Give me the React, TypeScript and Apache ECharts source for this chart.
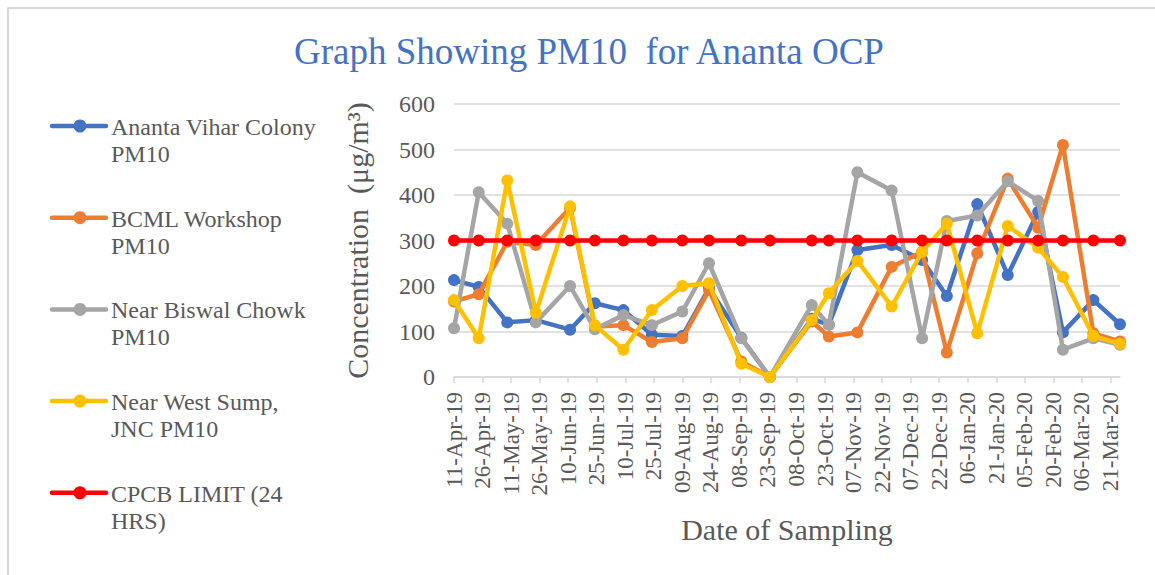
import React, { useEffect, useRef } from "react";
import * as echarts from "echarts";

const FONT = "'Liberation Serif', 'Times New Roman', serif";
const TEXT_GRAY = "#595959";
const GRID_GRAY = "#D9D9D9";

const titleText = "Graph Showing PM10  for Ananta OCP";
const xAxisTitle = "Date of Sampling";
const yAxisTitle = "Concentration  (μg/m³)";

const sampleDates = [
  "2019-04-11", "2019-04-24", "2019-05-09", "2019-05-24", "2019-06-11", "2019-06-24",
  "2019-07-09", "2019-07-24", "2019-08-09", "2019-08-23", "2019-09-09", "2019-09-24",
  "2019-10-16", "2019-10-25", "2019-11-09", "2019-11-27", "2019-12-13", "2019-12-26",
  "2020-01-11", "2020-01-27", "2020-02-12", "2020-02-25", "2020-03-12", "2020-03-26",
];

const anantaVihar = [213, 198, 120, 125, 104, 162, 147, 93, 90, 195, 86, 0, 128, 115, 279, 290, 257, 178, 380, 224, 363, 98, 169, 116];
const bcmlWorkshop = [166, 182, 297, 290, 372, 111, 114, 77, 85, 191, 34, 0, 122, 89, 98, 242, 275, 54, 272, 436, 328, 510, 96, 78];
const biswalChowk = [107, 406, 337, 120, 200, 105, 136, 114, 144, 250, 85, 0, 158, 115, 450, 410, 85, 343, 355, 430, 387, 60, 85, 71];
const westSump = [169, 85, 432, 141, 375, 114, 60, 147, 200, 206, 29, 0, 125, 184, 255, 155, 275, 337, 96, 332, 284, 220, 90, 73];
const cpcbLimit = [300, 300, 300, 300, 300, 300, 300, 300, 300, 300, 300, 300, 300, 300, 300, 300, 300, 300, 300, 300, 300, 300, 300, 300];

const seriesNames = [
  "Ananta Vihar Colony\nPM10",
  "BCML Workshop\nPM10",
  "Near Biswal Chowk\nPM10",
  "Near West Sump,\nJNC PM10",
  "CPCB LIMIT (24\nHRS)",
];
const seriesColors = ["#4472C4", "#ED7D31", "#A5A5A5", "#FFC000", "#FF0000"];

const xTickLabels = [
  "11-Apr-19", "26-Apr-19", "11-May-19", "26-May-19", "10-Jun-19", "25-Jun-19",
  "10-Jul-19", "25-Jul-19", "09-Aug-19", "24-Aug-19", "08-Sep-19", "23-Sep-19",
  "08-Oct-19", "23-Oct-19", "07-Nov-19", "22-Nov-19", "07-Dec-19", "22-Dec-19",
  "06-Jan-20", "21-Jan-20", "05-Feb-20", "20-Feb-20", "06-Mar-20", "21-Mar-20",
];
const yTicks = [0, 100, 200, 300, 400, 500, 600];

const MONTHS = ["Jan", "Feb", "Mar", "Apr", "May", "Jun", "Jul", "Aug", "Sep", "Oct", "Nov", "Dec"];
const START = Date.UTC(2019, 3, 11);
const DAY = 86400000;
const dayOfIso = (iso: string) => {
  const [y, m, d] = iso.split("-").map(Number);
  return Math.round((Date.UTC(y, m - 1, d) - START) / DAY);
};
const dayOfLabel = (lab: string) => {
  const [d, mon, yy] = lab.split("-");
  return Math.round((Date.UTC(2000 + Number(yy), MONTHS.indexOf(mon), Number(d)) - START) / DAY);
};

const xTickDays = xTickLabels.map(dayOfLabel);
const labelByDay: Record<number, string> = {};
xTickDays.forEach((d, i) => (labelByDay[d] = xTickLabels[i]));
const xMax = dayOfIso(sampleDates[sampleDates.length - 1]);

const allSeries = [anantaVihar, bcmlWorkshop, biswalChowk, westSump, cpcbLimit];

export default function App() {
  const ref = useRef<HTMLDivElement>(null);
  useEffect(() => {
    if (!ref.current) return;
    const chart = echarts.init(ref.current, null, { renderer: "svg" });

    const legendGraphics: any[] = [];
    seriesNames.forEach((name, i) => {
      const cy = 126 + i * 91.7;
      legendGraphics.push({
        type: "line",
        shape: { x1: 52, y1: cy, x2: 106, y2: cy },
        style: { stroke: seriesColors[i], lineWidth: 4.5, lineCap: "round" },
      });
      legendGraphics.push({
        type: "circle",
        shape: { cx: 80, cy, r: 6.5 },
        style: { fill: seriesColors[i] },
      });
      legendGraphics.push({
        type: "text",
        x: 111,
        y: cy + 1 - 13.5,
        style: {
          text: name,
          font: `24px ${FONT}`,
          fill: TEXT_GRAY,
          lineHeight: 27,
          textVerticalAlign: "top",
        },
      });
    });

    chart.setOption({
      animation: false,
      backgroundColor: "#ffffff",
      title: {
        text: titleText,
        left: 289,
        top: 28,
        textStyle: { fontFamily: FONT, fontSize: 37, fontWeight: "normal", color: "#4472C4" },
      },
      grid: { left: 454, right: 35, top: 104, bottom: 198, containLabel: false, outerBoundsMode: "none" },
      xAxis: {
        type: "value",
        min: 0,
        max: xMax,
        interval: 15,
        name: xAxisTitle,
        nameLocation: "middle",
        nameGap: 137,
        nameTextStyle: { fontFamily: FONT, fontSize: 30, color: TEXT_GRAY },
        axisLine: { show: true, lineStyle: { color: GRID_GRAY, width: 1.5 } },
        axisTick: { show: true, length: 6, lineStyle: { color: GRID_GRAY, width: 1.5 }, customValues: xTickDays },
        splitLine: { show: false },
        axisLabel: {
          rotate: 90,
          margin: 15,
          fontFamily: FONT,
          fontSize: 23,
          color: TEXT_GRAY,
          customValues: xTickDays,
          formatter: (v: number) => labelByDay[Math.round(v)] ?? "",
        },
      },
      yAxis: {
        type: "value",
        min: yTicks[0],
        max: yTicks[yTicks.length - 1],
        interval: 100,
        name: yAxisTitle,
        nameLocation: "middle",
        nameGap: 82,
        nameTextStyle: { fontFamily: FONT, fontSize: 30, color: TEXT_GRAY },
        axisLine: { show: false },
        axisTick: { show: false },
        splitLine: { show: true, lineStyle: { color: GRID_GRAY, width: 1.5 } },
        axisLabel: { margin: 19, fontFamily: FONT, fontSize: 24, color: TEXT_GRAY },
      },
      series: allSeries.map((vals, i) => ({
        name: seriesNames[i],
        type: "line",
        data: vals.map((v, j) => [dayOfIso(sampleDates[j]), v]),
        symbol: "circle",
        symbolSize: 12,
        showSymbol: true,
        lineStyle: { color: seriesColors[i], width: 4.5 },
        itemStyle: { color: seriesColors[i] },
        z: 2 + i,
      })),
      graphic: [
        {
          type: "rect",
          shape: { x: 8, y: 8, width: 1200, height: 620 },
          style: { fill: "none", stroke: GRID_GRAY, lineWidth: 2 },
          silent: true,
        },
        ...legendGraphics,
      ],
    });
    return () => chart.dispose();
  }, []);
  return (
    <div
      ref={ref}
      style={{ position: "absolute", left: 0, top: 0, width: 1155, height: 575 }}
    />
  );
}
